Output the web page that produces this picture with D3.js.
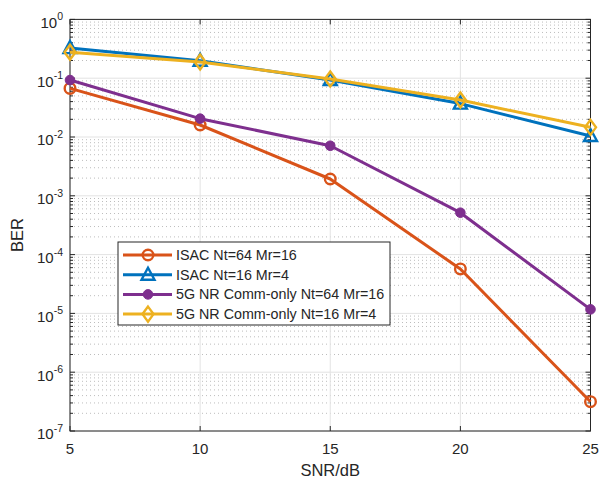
<!DOCTYPE html>
<html>
<head>
<meta charset="utf-8">
<script src="https://cdn.jsdelivr.net/npm/d3@7"></script>
<style>
  body { margin: 0; background: #fff; }
  svg text { font-family: "Liberation Sans", Arial, sans-serif; fill: #262626; }
</style>
</head>
<body>
<div id="chart"></div>
<script>
// SNR points (dB)
const snr = [5, 10, 15, 20, 25];

// BER values
const isac64 = [0.067, 0.016, 0.00193, 5.7e-5, 3.15e-7];
const isac16 = [0.325, 0.198, 0.093, 0.037, 0.0104];
const nr64 = [0.093, 0.0205, 0.0071, 5.16e-4, 1.17e-5];
const nr16 = [0.276, 0.189, 0.097, 0.0426, 0.0146];

const seriesNames = [
    "ISAC Nt=64 Mr=16",
    "ISAC Nt=16 Mr=4",
    "5G NR Comm-only Nt=64 Mr=16",
    "5G NR Comm-only Nt=16 Mr=4"
];
const seriesColors = ["#D95319", "#0072BD", "#7E2F8E", "#EDB120"];
const seriesMarkers = ["circle", "triangle", "dot", "diamond"];
const seriesValues = [isac64, isac16, nr64, nr16];

const xTicks = [5, 10, 15, 20, 25];
const yExponents = [0, -1, -2, -3, -4, -5, -6, -7];

let margin = {top: 19.4, right: 10.5, bottom: 47, left: 70},
    width = 601 - margin.left - margin.right,
    height = 478 - margin.top - margin.bottom;

let x = d3.scaleLinear().domain([5, 25]).range([0, width]);
let y = d3.scaleLog().domain([1e-7, 1]).range([height, 0]);

let svg = d3.select("#chart")
    .append("svg")
        .attr("width", 601)
        .attr("height", 478)
    .append("g")
        .attr("transform", "translate(" + margin.left + "," + margin.top + ")");

// minor grid (dotted), per decade 2..9
let minors = [];
for (let e = -7; e < 0; e++) {
    for (let m = 2; m <= 9; m++) minors.push(m * Math.pow(10, e));
}
svg.selectAll(".minor-grid")
    .data(minors)
    .enter().append("line")
    .attr("x1", 0).attr("x2", width)
    .attr("y1", d => y(d)).attr("y2", d => y(d))
    .attr("stroke", "#bdbdbd")
    .attr("stroke-width", 1)
    .attr("stroke-dasharray", "1,3");

// major grid
svg.selectAll(".ygrid")
    .data(yExponents)
    .enter().append("line")
    .attr("x1", 0).attr("x2", width)
    .attr("y1", d => y(Math.pow(10, d))).attr("y2", d => y(Math.pow(10, d)))
    .attr("stroke", "#e3e3e3")
    .attr("stroke-width", 1);

svg.selectAll(".xgrid")
    .data(xTicks)
    .enter().append("line")
    .attr("y1", 0).attr("y2", height)
    .attr("x1", d => x(d)).attr("x2", d => x(d))
    .attr("stroke", "#e3e3e3")
    .attr("stroke-width", 1);

// axis box
svg.append("rect")
    .attr("width", width).attr("height", height)
    .attr("fill", "none")
    .attr("stroke", "#262626")
    .attr("stroke-width", 1);

// ticks inside, on both sides
const tickLen = 5, minorLen = 3;
[0, width].forEach(function(xx) {
    const dir = xx === 0 ? 1 : -1;
    svg.selectAll(null)
        .data(yExponents)
        .enter().append("line")
        .attr("x1", xx).attr("x2", xx + dir * tickLen)
        .attr("y1", d => y(Math.pow(10, d))).attr("y2", d => y(Math.pow(10, d)))
        .attr("stroke", "#262626");
    svg.selectAll(null)
        .data(minors)
        .enter().append("line")
        .attr("x1", xx).attr("x2", xx + dir * minorLen)
        .attr("y1", d => y(d)).attr("y2", d => y(d))
        .attr("stroke", "#262626");
});
[0, height].forEach(function(yy) {
    const dir = yy === 0 ? 1 : -1;
    svg.selectAll(null)
        .data(xTicks)
        .enter().append("line")
        .attr("y1", yy).attr("y2", yy + dir * tickLen)
        .attr("x1", d => x(d)).attr("x2", d => x(d))
        .attr("stroke", "#262626");
});

// tick labels
svg.selectAll(".xlab")
    .data(xTicks)
    .enter().append("text")
    .attr("x", d => x(d))
    .attr("y", height + 23.5)
    .attr("text-anchor", "middle")
    .style("font-size", "15px")
    .text(d => d);

let ylab = svg.selectAll(".ylab")
    .data(yExponents)
    .enter().append("text")
    .attr("x", -7)
    .attr("y", d => y(Math.pow(10, d)) + 8.5)
    .attr("text-anchor", "end")
    .style("font-size", "15px");
ylab.append("tspan").text("10");
ylab.append("tspan")
    .attr("dy", -7.5)
    .style("font-size", "10.5px")
    .text(d => d);

// axis titles
svg.append("text")
    .attr("x", width / 2)
    .attr("y", height + 45)
    .attr("text-anchor", "middle")
    .style("font-size", "16.5px")
    .text("SNR/dB");

svg.append("text")
    .attr("transform", "translate(" + (-47.5) + "," + 215.6 + ") rotate(-90)")
    .attr("text-anchor", "middle")
    .style("font-size", "16.5px")
    .text("BER");

// marker drawing
function drawMarker(g, type, color, cx, cy) {
    if (type === "circle") {
        g.append("circle").attr("cx", cx).attr("cy", cy).attr("r", 5.3)
            .attr("fill", "none").attr("stroke", color).attr("stroke-width", 2.4);
    } else if (type === "dot") {
        g.append("circle").attr("cx", cx).attr("cy", cy).attr("r", 4.8)
            .attr("fill", color).attr("stroke", color).attr("stroke-width", 1);
    } else if (type === "triangle") {
        g.append("path")
            .attr("d", "M0,-7L6.5,5L-6.5,5Z")
            .attr("transform", "translate(" + cx + "," + cy + ")")
            .attr("fill", "none").attr("stroke", color).attr("stroke-width", 2.4);
    } else if (type === "diamond") {
        g.append("path")
            .attr("d", "M0,-7.5L5.5,0L0,7.5L-5.5,0Z")
            .attr("transform", "translate(" + cx + "," + cy + ")")
            .attr("fill", "none").attr("stroke", color).attr("stroke-width", 2.4);
    }
}

const line = d3.line().x((d, i) => x(snr[i])).y(d => y(d));

seriesValues.forEach(function(vals, k) {
    let g = svg.append("g");
    g.append("path")
        .datum(vals)
        .attr("d", line)
        .attr("fill", "none")
        .attr("stroke", seriesColors[k])
        .attr("stroke-width", 3)
        .attr("stroke-linejoin", "round");
    vals.forEach((v, i) => drawMarker(g, seriesMarkers[k], seriesColors[k], x(snr[i]), y(v)));
});

// legend
let legend = svg.append("g").attr("transform", "translate(" + (118 - margin.left) + "," + (242 - margin.top) + ")");
legend.append("rect")
    .attr("width", 272).attr("height", 83)
    .attr("fill", "#fff")
    .attr("stroke", "#262626")
    .attr("stroke-width", 1);

seriesNames.forEach(function(name, k) {
    const ly = 13 + k * 19.7;
    legend.append("line")
        .attr("x1", 5).attr("x2", 54)
        .attr("y1", ly).attr("y2", ly)
        .attr("stroke", seriesColors[k])
        .attr("stroke-width", 3);
    drawMarker(legend, seriesMarkers[k], seriesColors[k], 30, ly);
    legend.append("text")
        .attr("x", 58)
        .attr("y", ly + 5)
        .style("font-size", "14.3px")
        .text(name);
});
</script>
</body>
</html>
